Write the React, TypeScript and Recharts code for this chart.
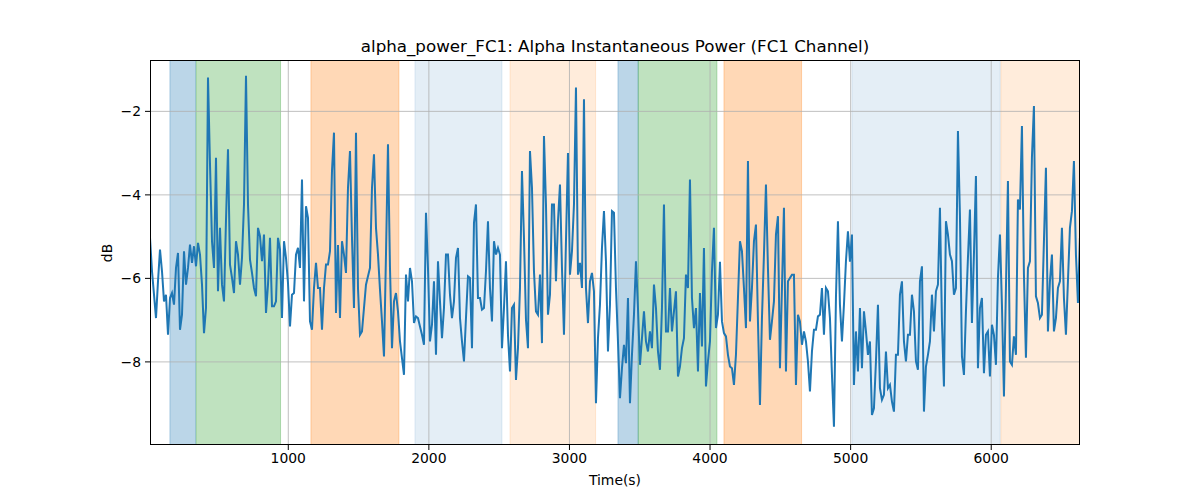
import { LineChart, Line, XAxis, YAxis, ReferenceArea, ReferenceLine } from 'recharts'

// sampling of the signal (seconds)
const T_START = 16.4
const T_STEP = 14.225

// alpha power in dB, one value per sample
const POWER_DB = [
  -5.03, -5.83, -6.39, -6.95, -6.07, -5.31, -5.83, -6.55, -6.39, -7.35, -6.47, -6.35, -6.63, -5.75, -5.39, -7.23,
  -6.87, -5.35, -6.15, -5.75, -5.19, -5.63, -5.23, -5.71, -5.15, -5.43, -6.15, -7.31, -6.71, -1.19, -3.27, -5.11,
  -5.75, -3.11, -6.31, -4.79, -6.15, -6.55, -4.6,
  -2.91, -5.67, -5.99, -6.35, -5.11, -5.43, -6.15, -5.51, -4.23, -1.15, -4.23, -5.55, -5.87, -6.23, -6.43, -4.79,
  -4.99, -5.59, -4.95, -6.83, -6.15, -5.03, -6.67, -6.67, -6.55, -5.03, -5.31, -6.95, -5.11, -5.51, -6.11, -7.15,
  -6.39, -6.35, -5.43, -5.27, -5.75, -3.63,
  -6.55, -4.27, -4.55, -7.03, -7.23, -6.23, -5.63, -6.23, -6.23, -7.23, -6.23, -5.67, -5.67, -5.35, -3.43, -2.51,
  -6.83, -5.2, -6.95, -5.11, -5.43, -5.87, -3.83, -2.95, -5.03, -6.71, -2.51, -6.23, -7.35, -7.27, -6.71, -6.15,
  -5.95, -5.75, -3.83, -3.03, -4.79, -5.43, -6.27,
  -7.03, -7.87, -5.43, -2.79, -5.75, -7.67, -6.55, -6.35, -6.79, -7.51, -7.91, -8.31, -5.91, -6.55, -5.75, -6.07,
  -7.07, -6.91, -6.95, -7.15, -7.35, -7.59, -4.43, -5.75, -7.51, -7.11, -6.07, -7.83, -5.59, -6.55, -7.43, -6.71,
  -5.43, -5.43, -6.39, -6.95, -6.55, -5.51,
  -5.27, -6.95, -7.51, -7.99, -6.95, -5.95, -5.99, -7.67, -4.67, -4.23, -6.47, -6.47, -6.75, -6.71, -5.83, -4.63,
  -6.23, -7.03, -5.11, -5.43, -5.27, -5.43, -7.67, -6.71, -5.59, -7.35, -8.23, -6.71, -6.63, -8.43, -7.67, -6.23,
  -3.43, -5.03, -6.99, -7.67, -2.95, -3.83, -5.83,
  -6.79, -6.87, -5.91, -7.55, -2.59, -4.23, -6.87, -6.39, -4.23, -4.23, -6.07, -4.63, -3.75, -5.75, -7.35, -5.11,
  -3.0, -5.91, -5.35, -4.23, -1.43, -5.91, -5.63, -6.23, -1.71, -6.23, -7.07, -6.07, -5.87, -6.31, -8.99, -7.43,
  -6.63, -5.27, -4.39, -5.59, -7.75, -6.63, -4.39,
  -4.43, -6.23, -7.51, -8.87, -8.15, -7.59, -8.03, -6.47, -8.99, -7.83, -6.87, -5.59, -6.71, -8.07, -7.43, -6.79,
  -7.51, -7.75, -7.27, -7.67, -6.15, -6.71, -7.75, -8.19, -6.71, -4.23, -7.27, -7.27, -6.23, -7.27, -6.79, -6.31,
  -8.35, -8.11, -7.67, -7.43, -5.91, -6.23,
  -3.63, -6.47, -7.19, -6.71, -8.23, -6.35, -7.63, -5.27, -8.59, -7.99, -7.51, -5.83, -4.79, -7.19, -6.87, -5.6,
  -7.03, -7.31, -7.39, -7.83, -8.11, -8.15, -8.55, -7.83, -6.47, -5.11, -5.35, -6.23, -7.19, -3.19, -7.03, -6.23,
  -5.11, -4.71, -7.03, -9.03, -6.95, -5.43, -3.75,
  -5.75, -7.47, -7.03, -6.55, -4.95, -4.51, -8.15, -6.23, -4.31, -8.23, -6.07, -5.99, -5.91, -5.91, -8.55, -6.87,
  -7.03, -7.59, -7.27, -7.51, -7.99, -8.71, -7.75, -7.23, -7.23, -6.91, -6.87, -6.23, -7.35, -6.23, -6.31, -6.95,
  -8.31, -9.55, -6.47, -4.63, -6.63, -7.51,
  -6.63, -5.59, -4.87, -5.6, -4.95, -8.55, -7.27, -8.23, -6.71, -8.15, -6.79, -7.27, -7.83, -7.51, -9.27, -9.11,
  -7.99, -6.63, -8.63, -8.91, -8.79, -7.75, -8.63, -8.55, -8.95, -9.19, -7.83, -7.83, -6.39, -6.07, -7.51, -7.99,
  -7.35, -7.35, -6.39, -6.79, -7.99, -8.19, -6.07,
  -5.71, -9.19, -8.11, -7.83, -7.51, -6.39, -7.27, -6.31, -6.15, -4.31, -7.03, -8.59, -4.63, -4.95, -5.43, -5.59,
  -6.39, -6.23, -2.47, -4.5, -7.87, -8.31, -6.79, -5.51, -4.35, -7.07, -5.43, -3.55, -8.15, -6.71, -6.47, -8.27,
  -7.35, -7.27, -8.35, -7.11, -7.35, -8.07, -5.99,
  -4.95, -6.63, -8.83, -6.23, -3.67, -7.99, -8.07, -7.39, -7.83, -4.11, -4.35, -2.35, -5.91, -7.9, -5.75, -5.59,
  -3.1, -1.87, -6.43, -6.59, -6.95, -6.87, -5.11, -3.35, -7.27, -6.07, -5.43, -7.27, -6.95, -6.23, -6.07, -4.79,
  -6.47, -7.35, -6.07, -4.79, -4.39, -3.19, -5.43, -6.59, -5.03,
]

// shaded segments: [start, end, colour, opacity]
const SEG_START = [158, 345, 1161, 1901, 2577, 3345, 3489, 4099, 5009, 6069]
const SEG_END = [341, 945, 1787, 2520, 3186, 3489, 4049, 4651, 6064, 6640]
const SEG_COLOR = ['#1f77b4', '#2ca02c', '#ff7f0e', '#1f77b4', '#ff7f0e', '#1f77b4', '#2ca02c', '#ff7f0e', '#1f77b4', '#ff7f0e']
const SEG_ALPHA = [0.3, 0.3, 0.3, 0.12, 0.15, 0.3, 0.3, 0.3, 0.12, 0.15]

const X_TICKS = [1000, 2000, 3000, 4000, 5000, 6000]
const Y_TICKS = [-8, -6, -4, -2]
const X_DOMAIN = [16.4, 6631.5]
const Y_DOMAIN = [-9.99, -0.77]

const FONT = '"DejaVu Sans", sans-serif'

export default function App() {
  const data = POWER_DB.map((v, i) => ({ t: T_START + i * T_STEP, v }))

  return (
    <div style={{ position: 'absolute', left: 0, top: 0, width: 1200, height: 500, background: '#fff', fontFamily: FONT }}>
      <LineChart width={1200} height={500} data={data} margin={{ top: 60, right: 120, bottom: 25, left: 90 }}>
        <XAxis
          dataKey="t"
          type="number"
          domain={X_DOMAIN}
          ticks={X_TICKS}
          allowDataOverflow
          height={30}
          axisLine={false}
          tickSize={5}
          tickMargin={3}
          tickLine={{ stroke: '#000', strokeWidth: 1 }}
          tick={{ fill: '#000', fontSize: 13.9, fontFamily: FONT }}
        />
        <YAxis
          type="number"
          domain={Y_DOMAIN}
          ticks={Y_TICKS}
          allowDataOverflow
          width={60}
          axisLine={false}
          tickSize={5}
          tickMargin={4}
          tickLine={{ stroke: '#000', strokeWidth: 1 }}
          tick={{ fill: '#000', fontSize: 13.9, fontFamily: FONT }}
          tickFormatter={(v: number) => `\u2212${Math.abs(v)}`}
        />

        {SEG_START.map((s, i) => (
          <ReferenceArea
            key={'seg' + i}
            x1={s}
            x2={SEG_END[i]}
            fill={SEG_COLOR[i]}
            fillOpacity={SEG_ALPHA[i]}
            stroke={SEG_COLOR[i]}
            strokeOpacity={SEG_ALPHA[i]}
            ifOverflow="hidden"
          />
        ))}

        {/* grid on top of the spans */}
        {X_TICKS.map((t) => (
          <ReferenceLine key={'gx' + t} x={t} stroke="#b0b0b0" strokeWidth={0.8} />
        ))}
        {Y_TICKS.map((t) => (
          <ReferenceLine key={'gy' + t} y={t} stroke="#b0b0b0" strokeWidth={0.8} />
        ))}

        <Line
          type="linear"
          dataKey="v"
          stroke="#1f77b4"
          strokeWidth={2}
          dot={false}
          activeDot={false}
          isAnimationActive={false}
        />
      </LineChart>

      {/* frame */}
      <div style={{ position: 'absolute', left: 150, top: 60, width: 930, height: 385, border: '1px solid #000', boxSizing: 'border-box', pointerEvents: 'none' }} />

      <div style={{ position: 'absolute', left: 150, width: 930, top: 36, textAlign: 'center', fontSize: 16.7, color: '#000', whiteSpace: 'nowrap' }}>
        alpha_power_FC1: Alpha Instantaneous Power (FC1 Channel)
      </div>
      <div style={{ position: 'absolute', left: 150, width: 930, top: 472, textAlign: 'center', fontSize: 13.9, color: '#000' }}>
        Time(s)
      </div>
      <div style={{ position: 'absolute', left: 107, top: 253, fontSize: 13.9, color: '#000', transform: 'translate(-50%, -50%) rotate(-90deg)' }}>
        dB
      </div>
    </div>
  )
}
